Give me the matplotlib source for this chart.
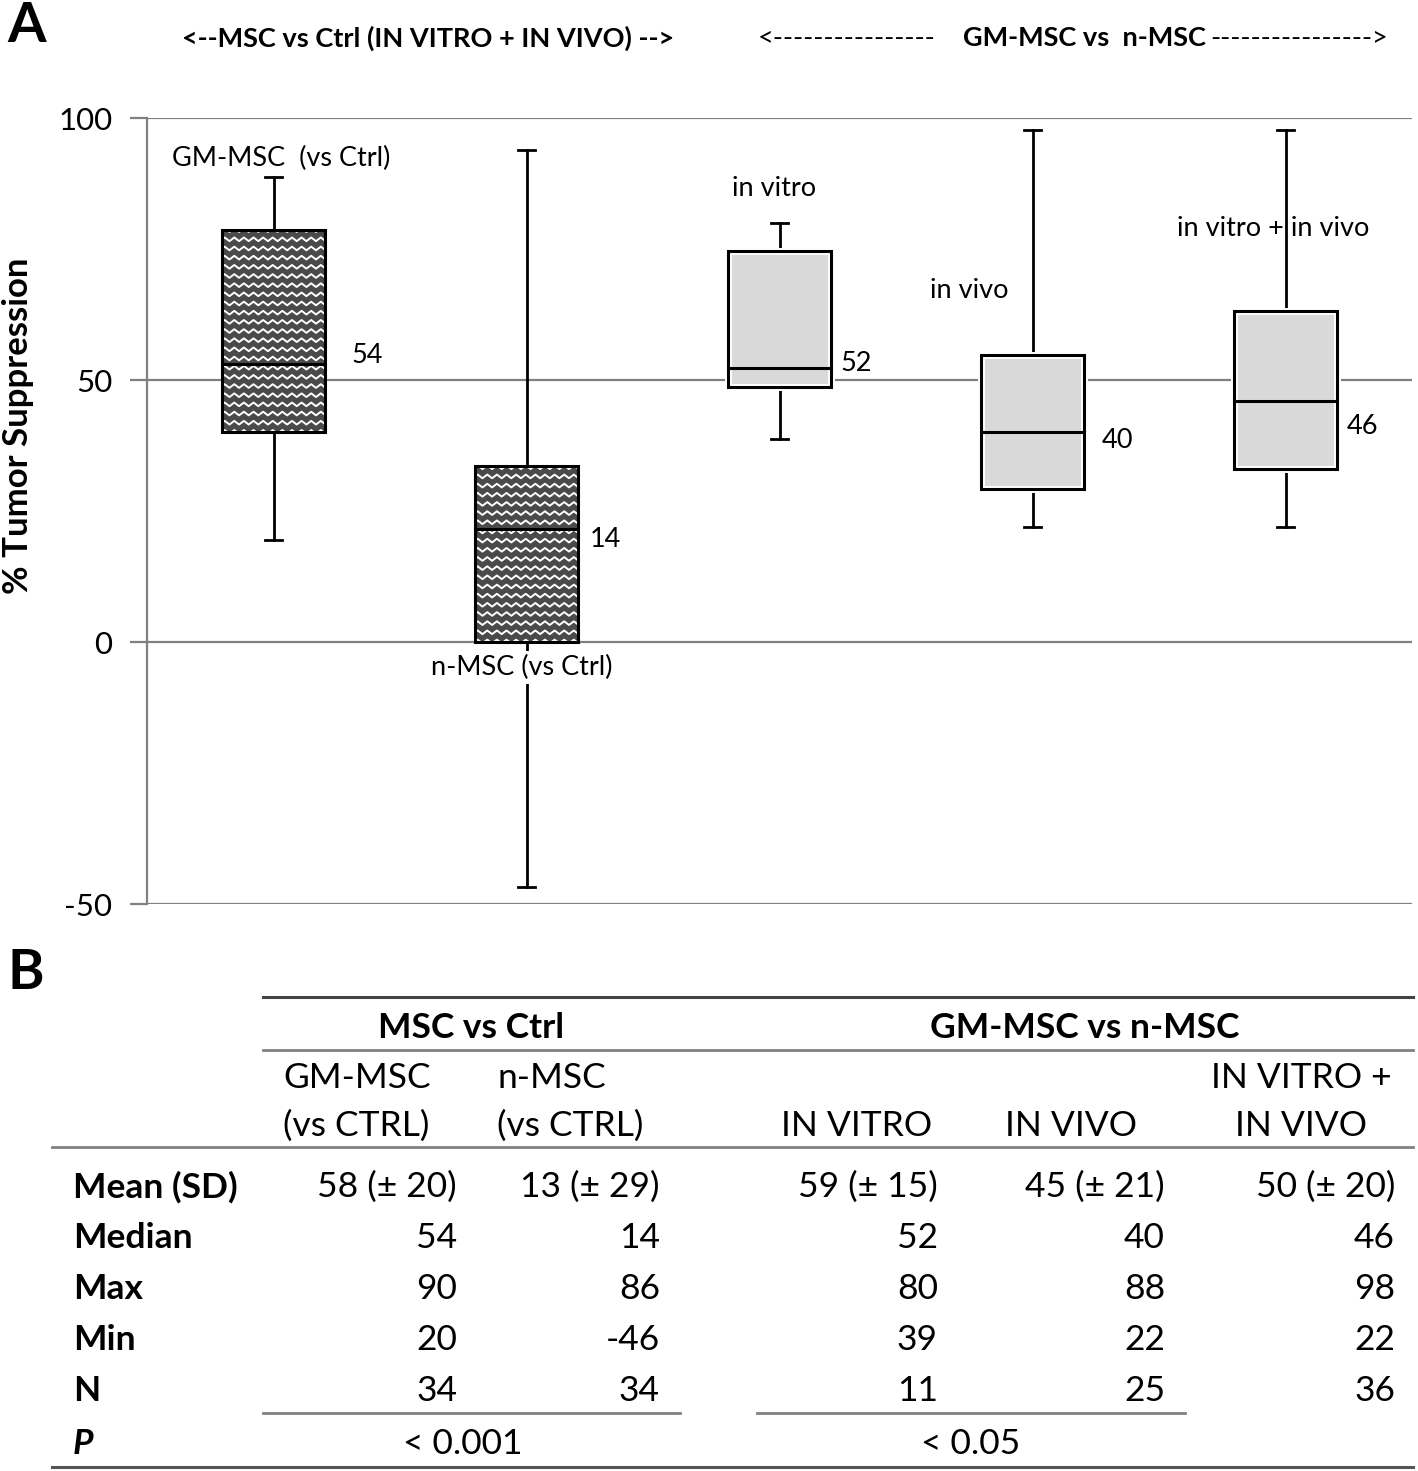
import numpy as np
import matplotlib.pyplot as plt
from matplotlib.lines import Line2D
from matplotlib.patches import PathPatch

plt.rcParams['font.family'] = ['Lato', 'DejaVu Sans']

# Datos del panel A
grupos = ["GM-MSC  (vs Ctrl)", "n-MSC (vs Ctrl)", "in vitro", "in vivo", "in vitro + in vivo"]
q1 = [40, 0, 48.6, 29.2, 33]
mediana = [53, 21.6, 52.2, 40.1, 45.9]
q3 = [78.7, 33.6, 74.7, 54.8, 63.1]
minimo = [19.5, -46.8, 38.7, 22, 22]
maximo = [88.7, 93.8, 80, 97.7, 97.7]
etiqueta_mediana = ["54", "14", "52", "40", "46"]
con_patron = [True, True, False, False, False]

# Datos del panel B (tabla)
filas = ["Mean (SD)", "Median", "Max", "Min", "N"]
col_gm_ctrl = ["58 (\u00b1 20)", "54", "90", "20", "34"]
col_n_ctrl = ["13 (\u00b1 29)", "14", "86", "-46", "34"]
col_in_vitro = ["59 (\u00b1 15)", "52", "80", "39", "11"]
col_in_vivo = ["45 (\u00b1 21)", "40", "88", "22", "25"]
col_total = ["50 (\u00b1 20)", "46", "98", "22", "36"]
p_valores = ["< 0.001", "< 0.05"]

W, H = 1418, 1471
fig = plt.figure(figsize=(W / 100, H / 100), dpi=100)

def fx(px):
    return px / W

def fy(py):
    return 1 - py / H

ax = fig.add_axes([fx(147), fy(904), fx(1412) - fx(147), fy(118) - fy(904)])
ax.set_xlim(-0.5, 4.5)
ax.set_ylim(-50, 100)

stats = []
for i in range(len(grupos)):
    stats.append({"med": mediana[i], "q1": q1[i], "q3": q3[i],
                  "whislo": minimo[i], "whishi": maximo[i], "label": grupos[i]})

bp = ax.bxp(stats, positions=range(len(grupos)), widths=0.405, showfliers=False,
            patch_artist=True, manage_ticks=False,
            boxprops=dict(edgecolor="black", linewidth=2.0, facecolor="#d9d9d9"),
            medianprops=dict(color="black", linewidth=2.2, zorder=4.5),
            whiskerprops=dict(color="black", linewidth=2.0),
            capprops=dict(color="black", linewidth=2.0), zorder=3)
for cap in bp["caps"]:
    x0, x1 = cap.get_xdata()
    c = (x0 + x1) / 2
    cap.set_xdata([c - 0.035, c + 0.035])

for i, box in enumerate(bp["boxes"]):
    if con_patron[i]:
        # relleno en zigzag para las cajas vs Ctrl
        box.set_facecolor("#4a4a4a")
        xs = np.arange(i - 0.25, i + 0.25, 0.019)
        zig = np.where(np.arange(len(xs)) % 2 == 0, 0, 0.7)
        for y0 in np.arange(q1[i] - 2, q3[i] + 2, 1.75):
            ln, = ax.plot(xs, y0 + zig, color="white", lw=1.4, zorder=3.5)
            ln.set_clip_path(box)
    else:
        # borde interior blanco como en Excel
        ax.add_patch(PathPatch(box.get_path(), transform=box.get_transform(),
                               fill=False, edgecolor="white", lw=5, zorder=3.6))
    ax.add_patch(PathPatch(box.get_path(), transform=box.get_transform(),
                           fill=False, edgecolor="black", lw=2.2, zorder=4))

# Cuadrícula horizontal
for yv in [100, 50, 0, -50]:
    ax.axhline(yv, color="#808080", lw=1.6, zorder=1)

ax.set_xticks([])
ax.set_yticks([-50, 0, 50, 100])
ax.set_yticklabels(["-50", "0", "50", "100"], fontsize=22.5)
ax.tick_params(axis="y", length=12, width=1.6, color="#808080", pad=13)
for s in ["top", "right", "bottom"]:
    ax.spines[s].set_visible(False)
ax.spines["left"].set_color("#808080")
ax.spines["left"].set_linewidth(1.6)

# Etiquetas de las cajas
fa = 19.5
ax.text(0.03, 92.3, grupos[0], ha="center", va="center", fontsize=fa)
ax.text(0.98, -4.8, grupos[1], ha="center", va="center", fontsize=fa, zorder=5,
        bbox=dict(facecolor="white", edgecolor="none", pad=3))
ax.text(1.98, 86.6, grupos[2], ha="center", va="center", fontsize=fa)
ax.text(2.75, 67.0, grupos[3], ha="center", va="center", fontsize=fa)
ax.text(3.95, 79.0, grupos[4], ha="center", va="center", fontsize=fa)

med_y = [54.6, 19.5, 53.2, 38.5, 41.2]
med_dx = [0.31, 0.25, 0.24, 0.275, 0.243]
for i, t in enumerate(etiqueta_mediana):
    ax.text(i + med_dx[i], med_y[i], t, ha="left", va="center", fontsize=fa)

fig.text(fx(18), fy(426), "% Tumor Suppression", fontsize=25, fontweight="bold",
         rotation=90, ha="center", va="center")

fig.text(fx(7), fy(26), "A", fontsize=40, fontweight="bold", ha="left", va="center")
fig.text(fx(7), fy(973), "B", fontsize=40, fontweight="bold", ha="left", va="center")

fh = 19.5
fig.text(fx(428), fy(38), "<--MSC vs Ctrl (IN VITRO + IN VIVO) -->", fontsize=fh,
         fontweight="bold", ha="center", va="center")
fig.text(fx(935), fy(38), "<----------------", fontsize=fh, ha="right", va="center")
fig.text(fx(1084), fy(38), "GM-MSC vs  n-MSC", fontsize=fh, fontweight="bold",
         ha="center", va="center")
fig.text(fx(1210), fy(38), "---------------->", fontsize=fh, ha="left", va="center")

# Panel B: tabla
def hline(x0, x1, y, color="#808080", lw=2.0):
    fig.add_artist(Line2D([fx(x0), fx(x1)], [fy(y), fy(y)], color=color, lw=lw))

hline(263, 1413, 997, color="#444444", lw=2.2)
hline(263, 1413, 1050)
hline(52, 1413, 1147)
hline(263, 680, 1413)
hline(757, 1185, 1413)
hline(52, 1413, 1467, color="#555555", lw=2.2)

ts = 25.5
fig.text(fx(471), fy(1028), "MSC vs Ctrl", fontsize=ts, fontweight="bold", ha="center", va="center")
fig.text(fx(1085), fy(1028), "GM-MSC vs n-MSC", fontsize=ts, fontweight="bold", ha="center", va="center")
fig.text(fx(283), fy(1078), "GM-MSC", fontsize=ts, ha="left", va="center")
fig.text(fx(283), fy(1126), "(vs CTRL)", fontsize=ts, ha="left", va="center")
fig.text(fx(497), fy(1078), "n-MSC", fontsize=ts, ha="left", va="center")
fig.text(fx(497), fy(1126), "(vs CTRL)", fontsize=ts, ha="left", va="center")
fig.text(fx(857), fy(1126), "IN VITRO", fontsize=ts, ha="center", va="center")
fig.text(fx(1071), fy(1126), "IN VIVO", fontsize=ts, ha="center", va="center")
fig.text(fx(1301), fy(1078), "IN VITRO +", fontsize=ts, ha="center", va="center")
fig.text(fx(1301), fy(1126), "IN VIVO", fontsize=ts, ha="center", va="center")

fila_y = [1187, 1238, 1289, 1340, 1391]
columnas = [col_gm_ctrl, col_n_ctrl, col_in_vitro, col_in_vivo, col_total]
col_derecha = [457, 660, 938, 1165, 1395]
for r, nombre in enumerate(filas):
    fig.text(fx(73), fy(fila_y[r]), nombre, fontsize=ts, fontweight="bold", ha="left", va="center")
    for c, col in enumerate(columnas):
        fig.text(fx(col_derecha[c]), fy(fila_y[r]), col[r], fontsize=ts, ha="right", va="center")

fig.text(fx(73), fy(1444), "P", fontsize=ts, fontweight="bold", fontstyle="italic",
         ha="left", va="center")
fig.text(fx(463), fy(1444), p_valores[0], fontsize=ts, ha="center", va="center")
fig.text(fx(971), fy(1444), p_valores[1], fontsize=ts, ha="center", va="center")

fig.savefig("out.png", dpi=100)
